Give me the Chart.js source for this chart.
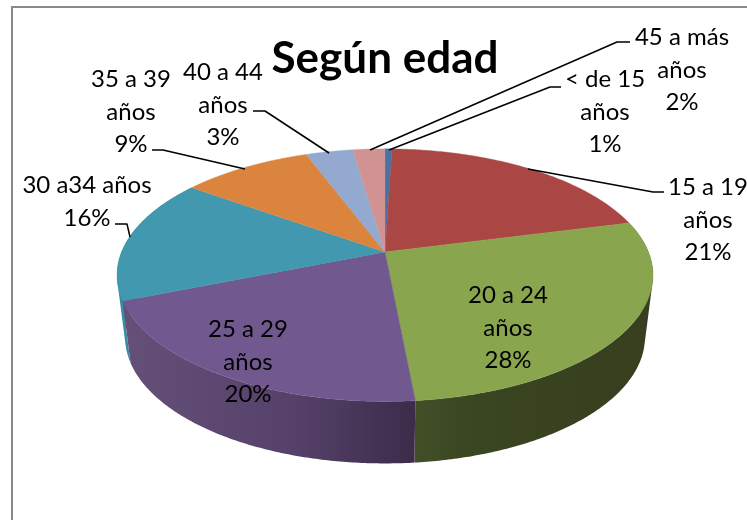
<!DOCTYPE html>
<html><head><meta charset="utf-8">
<style>html,body{margin:0;padding:0;background:#fff}canvas{display:block}</style>
<script src="https://cdn.jsdelivr.net/npm/chart.js@4"></script>
</head><body>
<canvas id="c" width="747" height="520"></canvas>
<script>
const chartTitle = 'Según edad';
const categories = ['< de 15 años','15 a 19 años','20 a 24 años','25 a 29 años','30 a34 años','35 a 39 años','40 a 44 años','45 a más años'];
const shares = [0.5,20.5,27.5,20.4,16.0,9.4,3.4,2.3];
const sliceColors = ['#4572A7','#AA4643','#89A54E','#71588F','#4198AF','#DB843D','#93A9CF','#D19392'];
const wrapName = [true,true,true,true,false,true,true,true];
const labelCentreX = [605,708,508,248,87,131,223,682];
const labelFirstBaseline = [87,195,303,337,193,87,80,45];
const leaderLines = [
  [[389,150],[550,87],[561,87]],
  [[528,169],[653,192],[664,192]],
  null,
  null,
  [[130,237],[127,224],[115,224]],
  [[245,169],[163,150],[152,150]],
  [[329,153],[265,111],[253,111]],
  [[370,150],[617,42],[630,42]]
];
const sideStops = {
  2: [[417,'#414f27'],[475,'#3a4521'],[650,'#373f1e']],
  3: [[122,'#655079'],[300,'#544068'],[417,'#3c2b49']],
  4: [[117,'#3a8aa0'],[135,'#3a8aa0']]
};
const tilt = {k:0.184, rx:263.4, ry:122, shrink:0.97, depth:62};
const LINE_GAP = 32.6;
const LABEL_FONT = '24px Lato, Carlito, sans-serif';

function project(arc, a, bottom){
  const u=Math.cos(a), v=Math.sin(a), w=1-tilt.k*v;
  let x=tilt.rx*u/w, y=tilt.ry*v/w;
  if(bottom){ x*=tilt.shrink; y+=tilt.depth; }
  return [arc.x+x, arc.y+y];
}
function arcPoints(arc,from,to,bottom){
  const n=Math.max(2,Math.ceil(Math.abs(to-from)/0.01)), pts=[];
  for(let i=0;i<=n;i++) pts.push(project(arc,from+(to-from)*i/n,bottom));
  return pts;
}
function trace(ctx,pts){ pts.forEach((p,i)=>i?ctx.lineTo(p[0],p[1]):ctx.moveTo(p[0],p[1])); }
function trace2(ctx,pts){ pts.forEach(p=>ctx.lineTo(p[0],p[1])); }
function signedArea(q){ let s=0; q.forEach((p,i)=>{const n=q[(i+1)%q.length]; s+=p[0]*n[1]-n[0]*p[1];}); return s; }

const pie3d = {
  id:'pie3d',
  beforeDraw(chart){
    const c=chart.ctx; c.save();
    c.fillStyle='#fff'; c.fillRect(0,0,747,520);
    c.strokeStyle='#8a8a8a'; c.lineWidth=2;
    c.beginPath(); c.moveTo(12,520); c.lineTo(12,7); c.lineTo(747,7); c.stroke();
    c.restore();
  },
  beforeDatasetDraw(chart){
    const c=chart.ctx, arcs=chart.getDatasetMeta(0).data;
    c.save();
    [4,2,3].forEach(i=>{
      const arc=arcs[i], from=arc.startAngle, to=arc.endAngle;
      const top=arcPoints(arc,from,to,false), bot=arcPoints(arc,from,to,true);
      const st=sideStops[i], x0=st[0][0], x1=st[st.length-1][0], g=c.createLinearGradient(x0,0,x1,0);
      st.forEach(s=>g.addColorStop((s[0]-x0)/(x1-x0),s[1]));
      c.fillStyle=g;
      c.beginPath();
      for(let j=0;j<top.length-1;j++){
        const q=[top[j],top[j+1],bot[j+1],bot[j]];
        if(signedArea(q)<0) q.reverse();
        trace(c,q); c.closePath();
      }
      c.fill('nonzero');
    });
    arcs.forEach((arc,i)=>{
      c.fillStyle=sliceColors[i]; c.strokeStyle=sliceColors[i]; c.lineWidth=0.4;
      c.beginPath(); c.moveTo(arc.x,arc.y);
      trace2(c,arcPoints(arc,arc.startAngle,arc.endAngle,false));
      c.closePath(); c.fill(); c.stroke();
    });
    c.restore();
    return false;
  },
  afterDraw(chart){
    const c=chart.ctx; c.save();
    c.strokeStyle='#000'; c.lineWidth=1.5; c.lineJoin='round';
    leaderLines.forEach(l=>{ if(!l)return; c.beginPath(); trace(c,l); c.stroke(); });
    c.fillStyle='#000'; c.font=LABEL_FONT; c.textAlign='center'; c.textBaseline='alphabetic';
    categories.forEach((name,i)=>{
      let lines;
      if(wrapName[i]){ const k=name.lastIndexOf(' '); lines=[name.slice(0,k),name.slice(k+1)]; } else lines=[name];
      lines.push(Math.max(1,Math.round(shares[i]))+'%');
      lines.forEach((t,j)=>c.fillText(t,labelCentreX[i],labelFirstBaseline[i]+j*LINE_GAP));
    });
    c.restore();
  }
};

new Chart(document.getElementById('c'),{
  type:'pie',
  data:{labels:categories,datasets:[{data:shares,backgroundColor:sliceColors,borderWidth:0}]},
  plugins:[pie3d],
  options:{
    responsive:false,animation:false,
    layout:{padding:{left:23,right:0,top:0,bottom:101}},
    plugins:{
      legend:{display:false},tooltip:{enabled:false},
      title:{display:true,text:chartTitle,color:'#000',align:'center',
        font:{family:'Lato, Carlito, sans-serif',size:44,weight:'bold',lineHeight:1.2},
        padding:{top:32,bottom:0}}
    }
  }
});
</script>
</body></html>
